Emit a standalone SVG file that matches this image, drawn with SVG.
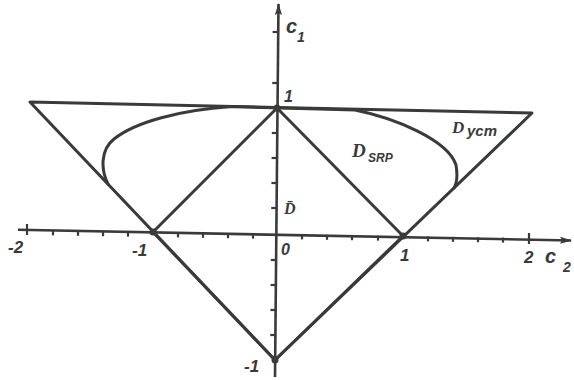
<svg xmlns="http://www.w3.org/2000/svg" width="574" height="380" viewBox="0 0 574 380">
<style>
.ln{fill:none;stroke:#3a3a3a;stroke-width:3;stroke-linecap:round;stroke-linejoin:round}
.ax{fill:none;stroke:#3a3a3a;stroke-width:2.6}
.tk{fill:none;stroke:#3a3a3a;stroke-width:2.2}
.t{font-family:"Liberation Sans",Arial,sans-serif;font-style:italic;font-weight:bold;fill:#3a3a3a}
.d{font-family:"Liberation Serif","Times New Roman",serif;font-style:italic;font-weight:bold;fill:#3a3a3a}
</style>
<defs>
<marker id="ah" viewBox="0 0 12 8" refX="11" refY="4" markerWidth="12" markerHeight="8" markerUnits="userSpaceOnUse" orient="auto">
<path d="M0,0.5 L12,4 L0,7.5 L2,4 Z" fill="#3a3a3a"/>
</marker>
</defs>
<g id="axes">
<path class="ax" d="M18,229.8 L571,240.5" marker-end="url(#ah)"/>
<path class="ax" d="M275,377 L278.5,4" marker-end="url(#ah)"/>
<g id="xticks" class="tk">
<path d="M27,224 V235"/>
<path d="M53,230.4 v5"/><path d="M78,230.8 v5"/><path d="M103,231.2 v5"/><path d="M128,231.6 v5"/>
<path d="M178,232.4 v5"/><path d="M203,232.8 v5"/><path d="M228,233.2 v5"/><path d="M253,233.6 v5"/>
<path d="M302,234.4 v5"/><path d="M327,234.8 v5"/><path d="M352,235.2 v5"/><path d="M378,235.6 v5"/>
<path d="M428,236.4 v5"/><path d="M453,236.8 v5"/><path d="M478,237.2 v5"/><path d="M503,237.6 v5"/>
<path d="M529,233 V244"/>
</g>
<g id="yticks" class="tk">
<path d="M278.6,32 h-6"/><path d="M278.2,83 h-6"/>
<path d="M277.8,133 h-6"/><path d="M277.6,158 h-6"/><path d="M277.4,183 h-6"/><path d="M277.2,208 h-6"/>
<path d="M276.8,260 h-6"/><path d="M276.6,285 h-6"/><path d="M276.4,310 h-6"/><path d="M276.2,335 h-6"/>
</g>
</g>
<g id="outer-triangle">
<path class="ln" d="M30,102 L532,113 L275,360 Z"/>
</g>
<g id="square">
<path class="ln" d="M277,108 L153,232 L275,360 L403,236 Z"/>
</g>
<g id="d-srp-curve">
<path class="ln" d="M108,184 C101,170 100,150 114,139 C135,122 180,110 232,106.5 L355,110 C395,118 448,140 456,165 C458,177 457,183 454,188"/>
</g>
<g id="points" fill="#3a3a3a">
<circle cx="153" cy="232" r="3.5"/>
<circle cx="403" cy="236" r="3.5"/>
<circle cx="277" cy="108" r="3.5"/>
<circle cx="275" cy="360" r="3.5"/>
</g>
<g id="labels">
<text class="t" x="286" y="33" font-size="20">c</text>
<text class="t" x="297" y="42" font-size="14">1</text>
<text class="t" x="284" y="102" font-size="16">1</text>
<text class="d" x="284" y="214" font-size="16">D̄</text>
<text class="t" x="281" y="255" font-size="16">0</text>
<text class="t" x="8" y="253" font-size="17">-2</text>
<text class="t" x="132" y="256" font-size="17">-1</text>
<text class="t" x="400" y="261" font-size="17">1</text>
<text class="t" x="524" y="263" font-size="17">2</text>
<text class="t" x="545" y="263" font-size="20">c</text>
<text class="t" x="563" y="272" font-size="14">2</text>
<text class="t" x="244" y="372" font-size="17">-1</text>
<text class="d" x="352" y="157" font-size="19">D</text>
<text class="t" x="368" y="162" font-size="12">SRP</text>
<text class="d" x="452" y="133" font-size="17">D</text>
<text class="t" x="467" y="136" font-size="15">ycm</text>
</g>
</svg>
